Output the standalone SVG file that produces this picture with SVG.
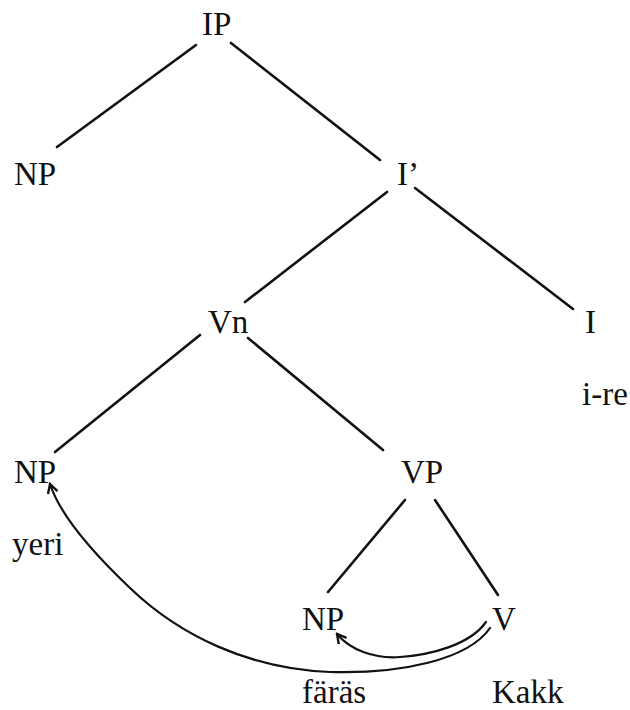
<svg xmlns="http://www.w3.org/2000/svg" width="630" height="710" viewBox="0 0 630 710">
<style>
text{font-family:"Liberation Serif","Times New Roman",serif;font-size:33px;fill:#111}
.e{stroke:#111;stroke-width:2.6;fill:none;stroke-linecap:round}
.m{stroke:#111;stroke-width:2.2;fill:none;stroke-linecap:round}
</style>
<defs>
<marker id="ah" viewBox="0 0 12 12" refX="10" refY="6" markerWidth="12" markerHeight="12" markerUnits="userSpaceOnUse" orient="auto">
<path d="M1,1 L10,6 L1,11" fill="none" stroke="#111" stroke-width="2.4" stroke-linejoin="miter"/>
</marker>
</defs>
<rect width="630" height="710" fill="#fff"/>
<g id="connectors">
<line class="e" x1="196" y1="45" x2="57" y2="147"/>
<line class="e" x1="231" y1="43" x2="380" y2="160"/>
<line class="e" x1="387" y1="192" x2="245" y2="302"/>
<line class="e" x1="415" y1="188" x2="573" y2="309"/>
<line class="e" x1="200" y1="335" x2="55" y2="452"/>
<line class="e" x1="248" y1="338" x2="383" y2="450"/>
<line class="e" x1="405" y1="500" x2="328" y2="592"/>
<line class="e" x1="435" y1="500" x2="498" y2="595"/>
<path class="m" d="M490,628 C468,660 400,674 330,672 C250,669 180,636 130,588 C90,550 60,515 50,484" marker-end="url(#ah)"/>
<path class="m" d="M486,622 C470,645 430,655 400,657 C375,659 350,650 337,634" marker-end="url(#ah)"/>
</g>
<g id="IP"><text x="202" y="35">IP</text></g>
<g id="NP1"><text x="14" y="185">NP</text></g>
<g id="Ibar"><text x="397" y="185">I’</text></g>
<g id="Vn"><text x="208" y="333">Vn</text></g>
<g id="I"><text x="585" y="333">I</text></g>
<g id="ire"><text x="582" y="405">i-re</text></g>
<g id="NP2"><text x="14" y="483">NP</text></g>
<g id="VP"><text x="401" y="483">VP</text></g>
<g id="yeri"><text x="12" y="555">yeri</text></g>
<g id="NP3"><text x="302" y="630">NP</text></g>
<g id="V"><text x="492" y="630">V</text></g>
<g id="faras"><text x="302" y="703">färäs</text></g>
<g id="Kakk"><text x="492" y="703">Kakk</text></g>
</svg>
